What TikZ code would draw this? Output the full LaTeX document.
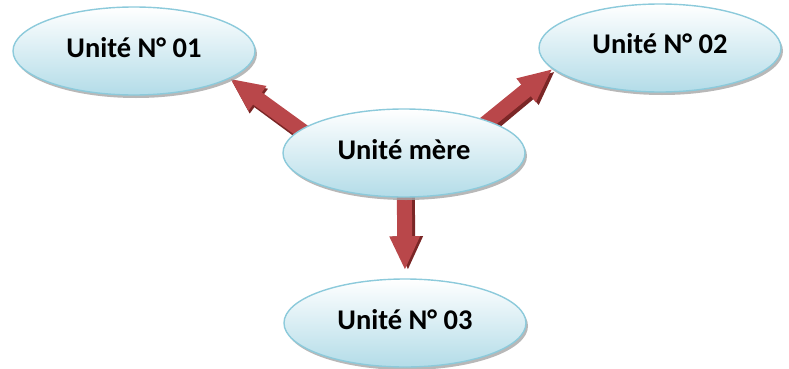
\documentclass[tikz,border=0pt]{standalone}
\usepackage{fontspec}
\setmainfont{Carlito}
\usetikzlibrary{shapes.geometric,shadows,arrows.meta,backgrounds}

\definecolor{unitline}{HTML}{8CCADB}
\definecolor{unitfill}{HTML}{B3DCE8}
\definecolor{arrowred}{HTML}{B9474A}
\definecolor{arrowdark}{HTML}{7A2626}

\tikzstyle{unit} = [ellipse, draw=unitline, line width=1.4pt, top color=white, bottom color=unitfill,
  minimum width=242pt, minimum height=88pt, inner sep=0pt, text centered, text depth=8pt,
  font=\fontsize{28.5}{32}\selectfont\bfseries,
  drop shadow={shadow xshift=2pt, shadow yshift=-3pt, fill=black!35, opacity=.8}]
\tikzstyle{link} = [line width=15pt, draw=arrowred, -{Triangle[width=28pt,length=34pt]}]
\tikzstyle{linkside} = [line width=15pt, draw=arrowdark, -{Triangle[width=28pt,length=34pt]}]

\begin{document}
\begin{tikzpicture}[x=1pt,y=1pt]
        \useasboundingbox (0,0) rectangle (789,368);
        % units
        \node[unit] (mere) at (404,215) {Unité mère};
        \node[unit] (u1) at (134,317) {Unité N° 01};
        \node[unit] (u2) at (660,320) {Unité N° 02};
        \node[unit] (u3) at (405,45) {Unité N° 03};
        % arrows behind the units
        \begin{pgfonlayer}{background}
        \draw[linkside] ([shift={(-72pt,-2pt)}]mere.center) -- ([shift={(1.5pt,-2.5pt)}]u1.-16);
        \draw[link] ([shift={(-74pt,2pt)}]mere.center) -- (u1.-16);
        \draw[linkside] ([shift={(64pt,9pt)}]mere.center) -- ([shift={(2.5pt,-2.5pt)}]u2.191);
        \draw[link] ([shift={(61pt,13pt)}]mere.center) -- (u2.191);
        \draw[linkside, shorten >=8pt] ([xshift=3pt]mere.center) -- ([xshift=3pt]u3.north);
        \draw[link, shorten >=8pt] (mere.center) -- (u3.north);
        \end{pgfonlayer}
\end{tikzpicture}
\end{document}
